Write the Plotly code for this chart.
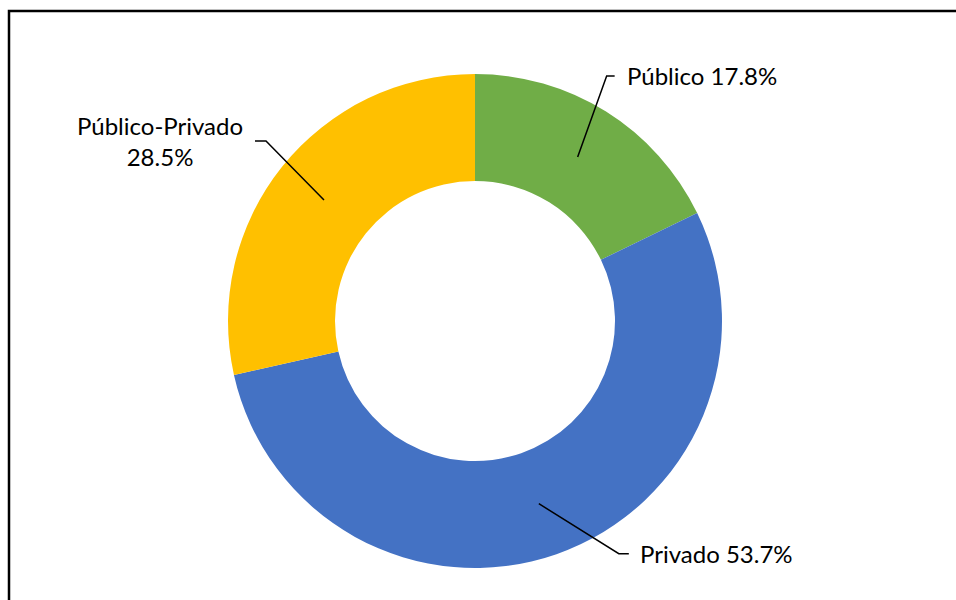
import math
import plotly.graph_objects as go

# Data
labels = ["Público", "Privado", "Público-Privado"]
values = [17.8, 53.7, 28.5]
colors = ["#70AD47", "#4472C4", "#FFC000"]

W, H = 956, 600
cx, cy = 475, 321          # donut centre (px)
r_out, r_in = 247, 140     # radii (px)

# leader line offsets (elbow dx, dy, horizontal run) and label anchor
leader = {
    "Público": dict(dx=29, dy=-81, run=8, tx=10, anchor="left"),
    "Privado": dict(dx=80, dy=50, run=10, tx=9, anchor="left"),
    "Público-Privado": dict(dx=-58, dy=-59, run=-11, tx=-95, anchor="center"),
}


def px(x):
    return x / W


def py(y):
    return 1 - y / H


fig = go.Figure(go.Pie(
    labels=labels,
    values=values,
    hole=r_in / r_out,
    sort=False,
    direction="clockwise",
    rotation=0,
    textinfo="none",
    marker=dict(colors=colors, line=dict(width=0)),
    domain=dict(x=[px(cx - r_out), px(cx + r_out)], y=[py(cy + r_out), py(cy - r_out)]),
    showlegend=False,
))

shapes = []
annotations = []
total = sum(values)
cum = 0
r_mid = (r_out + r_in) / 2
for lab, val in zip(labels, values):
    frac = (cum + val / 2) / total
    cum += val
    th = 2 * math.pi * frac
    x0 = cx + r_mid * math.sin(th)
    y0 = cy - r_mid * math.cos(th)
    o = leader[lab]
    x1, y1 = x0 + o["dx"], y0 + o["dy"]
    x2 = x1 + o["run"]
    shapes.append(dict(
        type="path", xref="paper", yref="paper",
        path=f"M {px(x0)},{py(y0)} L {px(x1)},{py(y1)} L {px(x2)},{py(y1)}",
        line=dict(color="black", width=1.5),
    ))
    pct = f"{val / total * 100:.1f}%"
    if lab == "Público-Privado":
        txt = f"{lab}<br>{pct}"
    else:
        txt = f"{lab} {pct}"
    annotations.append(dict(
        x=px(x2 + o["tx"]), y=py(y1), xref="paper", yref="paper",
        text=txt, showarrow=False, xanchor=o["anchor"], yanchor="middle",
        align="center", font=dict(family="Lato", size=24, color="#000000"),
    ))

# chart frame
shapes.append(dict(type="rect", xref="paper", yref="paper",
                   x0=px(9), x1=1.02, y0=-0.02, y1=py(11),
                   line=dict(color="black", width=2.5)))

fig.update_layout(
    width=W, height=H,
    margin=dict(l=0, r=0, t=0, b=0),
    paper_bgcolor="white",
    plot_bgcolor="white",
    shapes=shapes,
    annotations=annotations,
)

fig.write_html("out.html", config={"displayModeBar": False},
               post_script="document.body.style.margin='0';")
